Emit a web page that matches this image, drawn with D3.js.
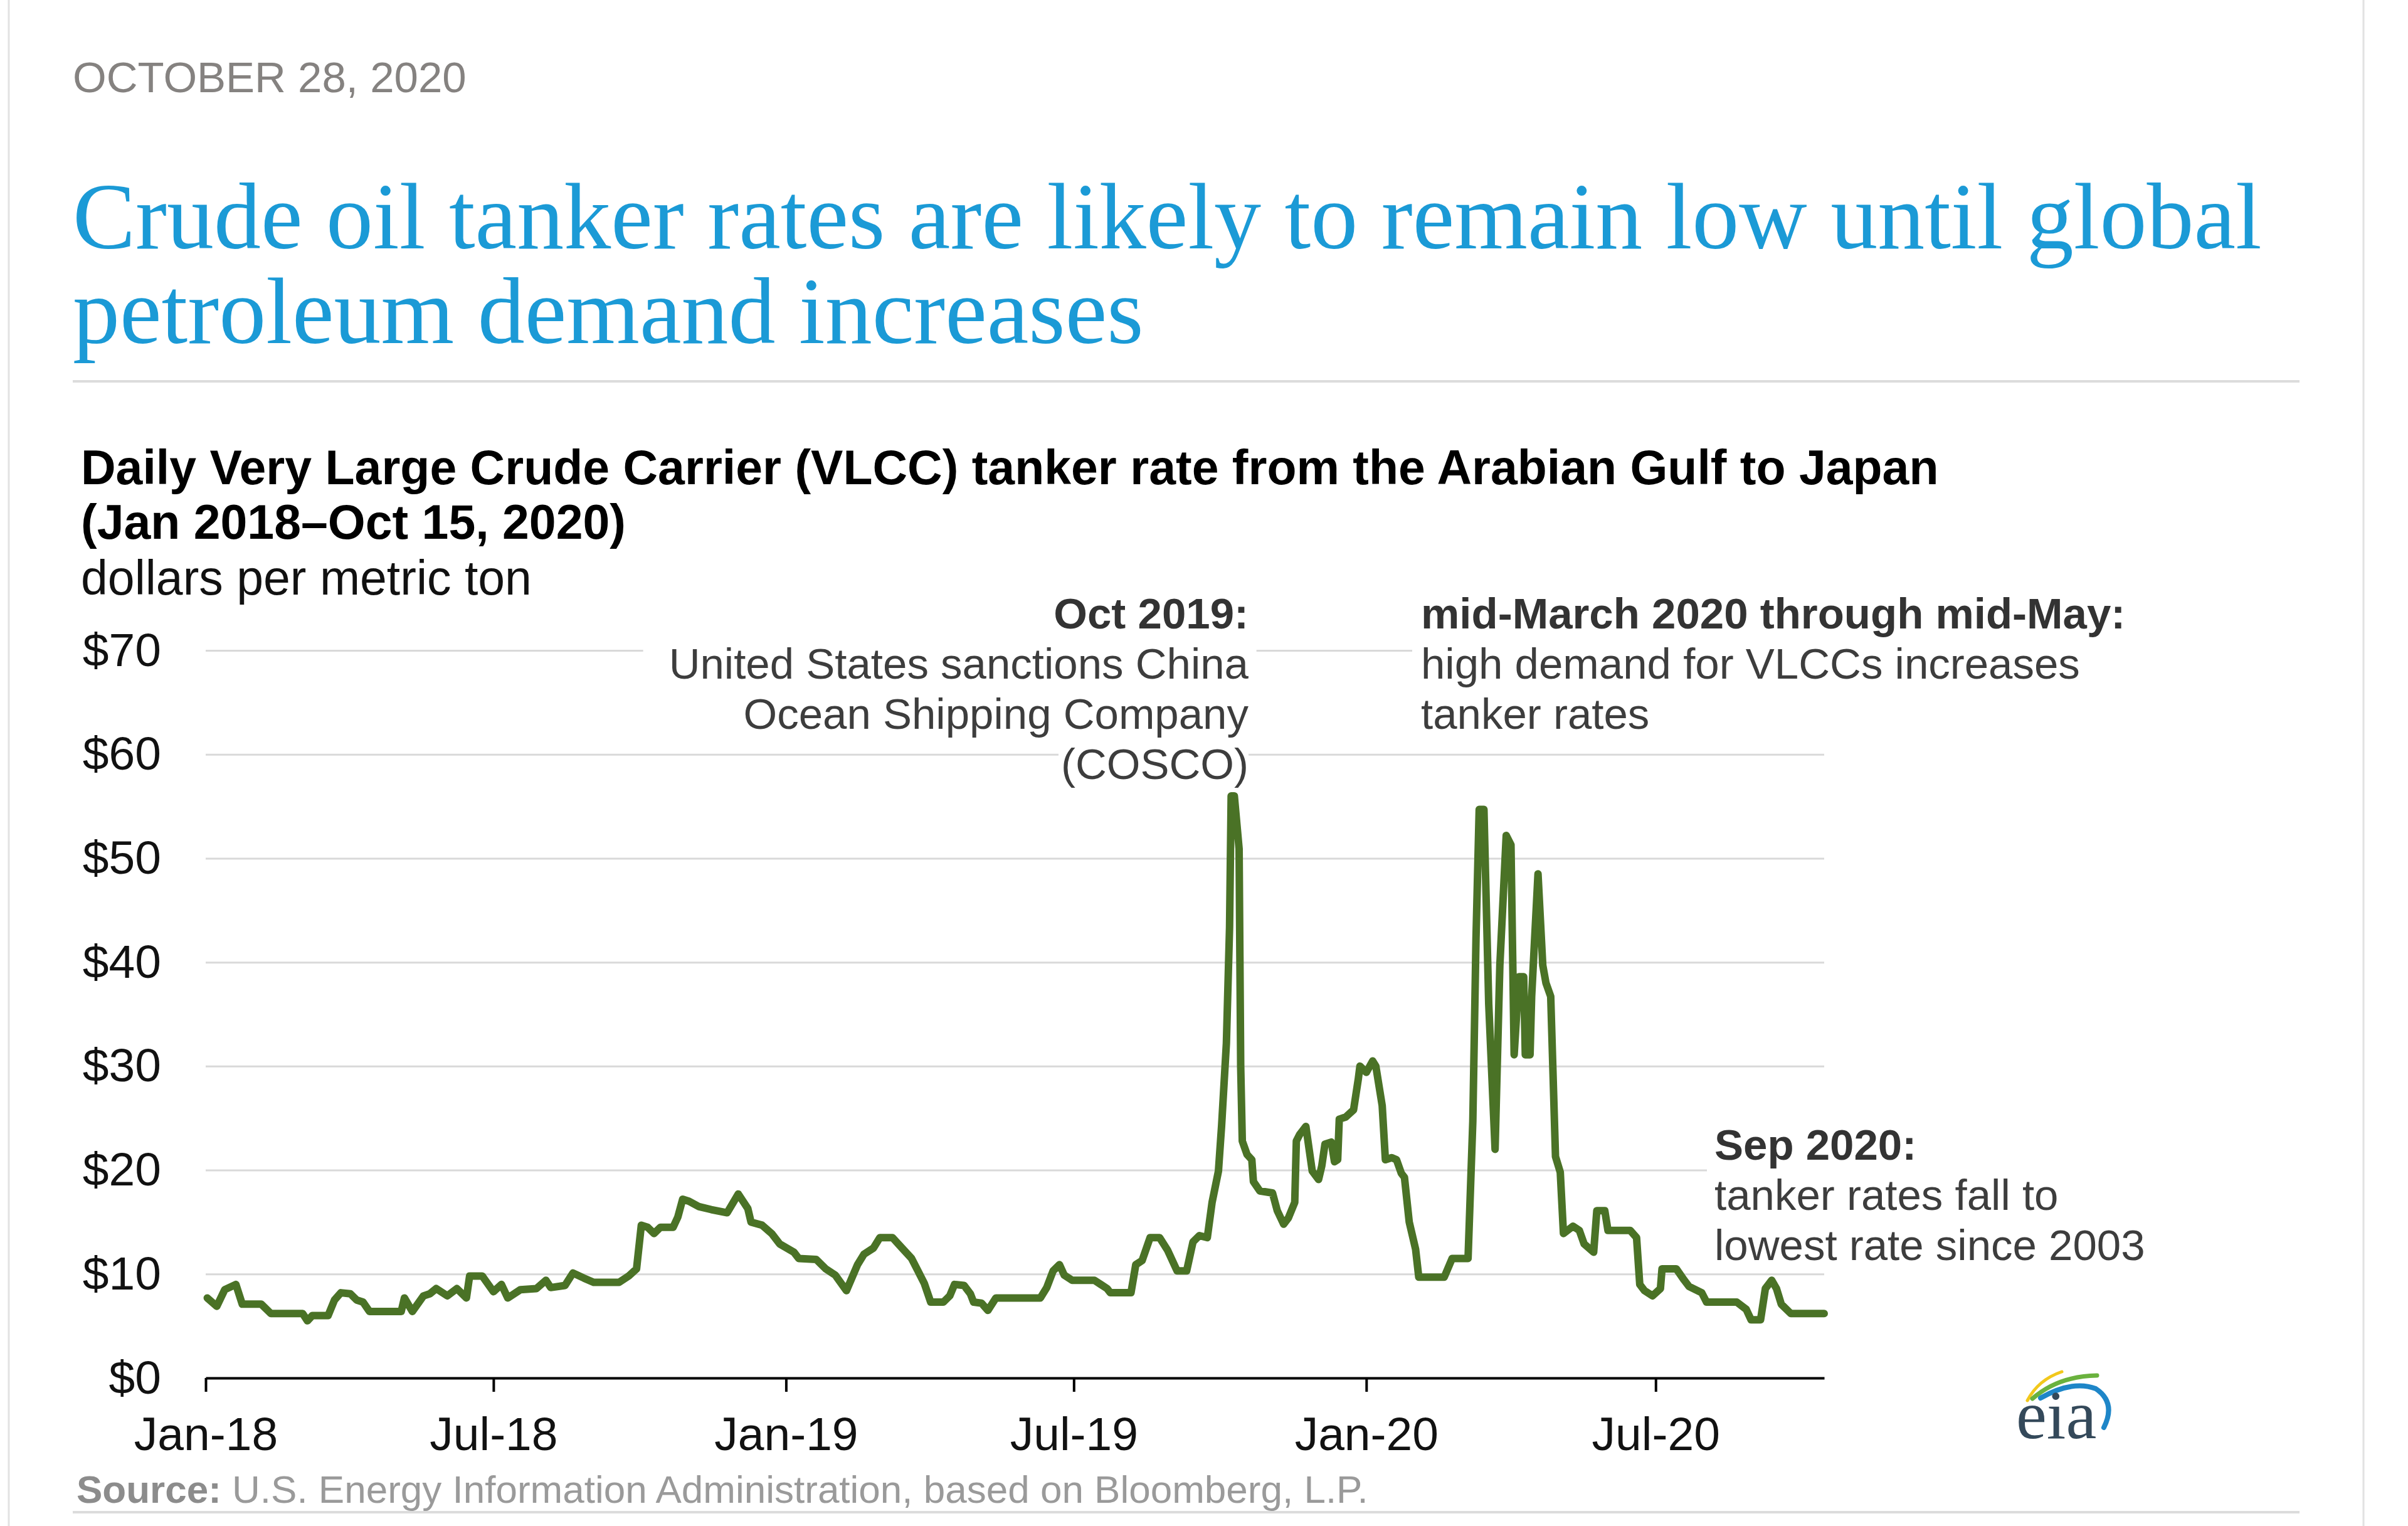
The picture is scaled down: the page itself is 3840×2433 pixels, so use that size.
<!DOCTYPE html>
<html><head><meta charset="utf-8">
<script src="https://cdn.jsdelivr.net/npm/d3@7"></script>
<style>
html,body{margin:0;padding:0;background:#fff;}
svg{display:block;}
</style></head>
<body><svg id="chart" width="3840" height="2433"></svg>
<script>
// ---- data ----
const dates = [
"2018-01-02","2018-01-08","2018-01-13","2018-01-20","2018-01-24","2018-02-05","2018-02-11","2018-03-03","2018-03-06","2018-03-09",
"2018-03-19","2018-03-23","2018-03-27","2018-04-02","2018-04-06","2018-04-10","2018-04-14","2018-05-04","2018-05-06","2018-05-11",
"2018-05-18","2018-05-22","2018-05-26","2018-06-02","2018-06-08","2018-06-14","2018-06-16","2018-06-24","2018-07-01","2018-07-06",
"2018-07-10","2018-07-18","2018-07-28","2018-08-03","2018-08-06","2018-08-15","2018-08-20","2018-08-27","2018-09-02","2018-09-18",
"2018-09-24","2018-09-29","2018-10-02","2018-10-06","2018-10-10","2018-10-14","2018-10-22","2018-10-25","2018-10-28","2018-11-01",
"2018-11-07","2018-11-15","2018-11-25","2018-12-02","2018-12-08","2018-12-10","2018-12-17","2018-12-23","2018-12-28","2019-01-06",
"2019-01-09","2019-01-20","2019-01-26","2019-02-01","2019-02-08","2019-02-15","2019-02-19","2019-02-25","2019-03-01","2019-03-09",
"2019-03-15","2019-03-21","2019-03-25","2019-03-29","2019-04-02","2019-04-10","2019-04-14","2019-04-17","2019-04-23","2019-04-27",
"2019-04-29","2019-05-04","2019-05-08","2019-05-13","2019-06-10","2019-06-14","2019-06-18","2019-06-22","2019-06-25","2019-06-30",
"2019-07-14","2019-07-18","2019-07-22","2019-07-24","2019-08-06","2019-08-09","2019-08-13","2019-08-18","2019-08-24","2019-08-29",
"2019-09-04","2019-09-10","2019-09-14","2019-09-18","2019-09-23","2019-09-26","2019-09-30","2019-10-02","2019-10-05","2019-10-07",
"2019-10-08","2019-10-10","2019-10-13","2019-10-14","2019-10-15","2019-10-18","2019-10-21","2019-10-22","2019-10-26","2019-11-03",
"2019-11-06","2019-11-10","2019-11-13","2019-11-17","2019-11-18","2019-11-20","2019-11-24","2019-11-28","2019-12-02","2019-12-04",
"2019-12-06","2019-12-10","2019-12-12","2019-12-14","2019-12-15","2019-12-19","2019-12-24","2019-12-27","2019-12-28","2020-01-01",
"2020-01-05","2020-01-07","2020-01-11","2020-01-13","2020-01-17","2020-01-20","2020-01-23","2020-01-25","2020-01-28","2020-02-01",
"2020-02-03","2020-02-19","2020-02-24","2020-03-05","2020-03-08","2020-03-10","2020-03-12","2020-03-15","2020-03-18","2020-03-22",
"2020-03-25","2020-03-29","2020-04-01","2020-04-03","2020-04-06","2020-04-09","2020-04-10","2020-04-13","2020-04-14","2020-04-18",
"2020-04-21","2020-04-23","2020-04-26","2020-04-29","2020-05-02","2020-05-04","2020-05-10","2020-05-14","2020-05-17","2020-05-23",
"2020-05-25","2020-05-30","2020-06-01","2020-06-15","2020-06-19","2020-06-21","2020-06-24","2020-06-29","2020-07-04","2020-07-05",
"2020-07-14","2020-07-19","2020-07-22","2020-07-30","2020-08-02","2020-08-21","2020-08-27","2020-08-30","2020-09-05","2020-09-08",
"2020-09-12","2020-09-15","2020-09-18","2020-09-24","2020-10-15"];
const rates = [
7.7,6.9,8.5,9.0,7.1,7.1,6.2,6.2,5.5,6.0,
6.0,7.5,8.2,8.1,7.5,7.3,6.4,6.4,7.7,6.4,
7.9,8.1,8.6,7.9,8.6,7.7,9.8,9.8,8.3,9.0,
7.7,8.5,8.6,9.4,8.7,8.9,10.1,9.6,9.2,9.2,
9.8,10.5,14.7,14.5,13.9,14.5,14.5,15.5,17.2,17.0,
16.5,16.2,15.9,17.7,16.3,15.0,14.7,13.9,12.9,12.1,
11.5,11.4,10.5,9.9,8.4,10.9,11.9,12.5,13.5,13.5,
12.5,11.5,10.3,9.1,7.3,7.3,7.9,9.0,8.9,8.1,
7.3,7.2,6.5,7.7,7.7,8.7,10.3,10.9,9.9,9.4,
9.4,9.0,8.6,8.2,8.2,10.9,11.3,13.5,13.5,12.3,
10.3,10.3,13.1,13.7,13.5,16.9,19.9,24.3,32.2,43.4,
56.0,56.0,50.9,30.0,22.8,21.5,21.0,18.9,18.0,17.8,
16.1,14.8,15.4,16.9,22.8,23.4,24.2,19.9,19.1,20.4,
22.5,22.7,20.8,21.0,24.9,25.1,25.8,28.8,30.0,29.4,
30.5,30.0,26.2,21.0,21.2,21.0,19.7,19.3,15.0,12.4,
9.7,9.7,11.5,11.5,24.7,42.3,54.7,54.7,36.0,22.0,
39.7,52.2,51.3,31.1,38.6,38.6,31.1,31.1,36.7,48.5,
39.7,38.0,36.7,21.3,19.8,13.9,14.6,14.2,12.9,12.1,
16.1,16.1,14.2,14.2,13.5,9.0,8.4,7.9,8.6,10.5,
10.5,9.4,8.8,8.2,7.3,7.3,6.6,5.6,5.6,8.6,
9.4,8.6,7.1,6.2,6.2];
const xTickDates = ["2018-01-01","2018-07-01","2019-01-01","2019-07-01","2020-01-01","2020-07-01"];
const xTickLabels = ["Jan-18","Jul-18","Jan-19","Jul-19","Jan-20","Jul-20"];
const yTickValues = [0,10,20,30,40,50,60,70];
const yTickLabels = ["$0","$10","$20","$30","$40","$50","$60","$70"];
const xDomain = ["2018-01-01","2020-10-15"];

// ---- layout ----
const parse = d3.utcParse("%Y-%m-%d");
const svg = d3.select("#chart");
const SANS = "'Liberation Sans', Arial, Helvetica, sans-serif";
const SERIF = "'Liberation Serif', 'Times New Roman', serif";
const plot = {left: 328, right: 2909, top: 1037, bottom: 2197};

svg.append("rect").attr("width",3840).attr("height",2433).attr("fill","#fff");
// page borders
svg.append("line").attr("x1",14).attr("x2",14).attr("y1",0).attr("y2",2433).attr("stroke","#e2e2e2").attr("stroke-width",3);
svg.append("line").attr("x1",3769).attr("x2",3769).attr("y1",0).attr("y2",2433).attr("stroke","#e2e2e2").attr("stroke-width",3);

// header
svg.append("text").attr("x",116).attr("y",147).attr("font-family",SANS).attr("font-size",69)
  .attr("fill","#858280").text("OCTOBER 28, 2020");
const titleLines = ["Crude oil tanker rates are likely to remain low until global","petroleum demand increases"];
svg.append("g").selectAll("text").data(titleLines).join("text")
  .attr("x",116).attr("y",(d,i)=>396+i*151).attr("font-family",SERIF).attr("font-size",150)
  .attr("fill","#1b9ad6").text(d=>d);
svg.append("line").attr("x1",116).attr("x2",3667).attr("y1",608).attr("y2",608).attr("stroke","#dcdcdc").attr("stroke-width",4);

// chart title
const chartTitle = ["Daily Very Large Crude Carrier (VLCC) tanker rate from the Arabian Gulf to Japan","(Jan 2018\u2013Oct 15, 2020)"];
svg.append("g").selectAll("text").data(chartTitle).join("text")
  .attr("x",129).attr("y",(d,i)=>772+i*87).attr("font-family",SANS).attr("font-size",77)
  .attr("font-weight","bold").attr("fill","#000").text(d=>d);
svg.append("text").attr("x",129).attr("y",948).attr("font-family",SANS).attr("font-size",77)
  .attr("fill","#111").text("dollars per metric ton");

// scales
const x = d3.scaleUtc().domain(xDomain.map(parse)).range([plot.left, plot.right]);
const y = d3.scaleLinear().domain([0,70]).range([plot.bottom, plot.top]);

// gridlines
svg.append("g").attr("transform",`translate(${plot.left},0)`)
  .call(d3.axisLeft(y).tickValues(yTickValues.filter(v=>v>0)).tickSize(-(plot.right-plot.left)).tickFormat(""))
  .call(g=>g.select(".domain").remove())
  .call(g=>g.selectAll(".tick line").attr("stroke","#d9d9d9").attr("stroke-width",3));

// y labels
svg.append("g").attr("transform",`translate(${plot.left},0)`)
  .call(d3.axisLeft(y).tickValues(yTickValues).tickSize(0).tickPadding(71).tickFormat((d,i)=>yTickLabels[i]))
  .call(g=>g.select(".domain").remove())
  .call(g=>g.selectAll("text").attr("font-family",SANS).attr("font-size",75).attr("fill","#111"));

// annotations (with white line backgrounds)
const annotations = [
  {x:1991, anchor:"end", y:1002, lines:[
    {t:"Oct 2019:", b:true},
    {t:"United States sanctions China", padL:41, padR:12},
    {t:"Ocean Shipping Company"},
    {t:"(COSCO)", padR:0}]},
  {x:2266, anchor:"start", y:1002, lines:[
    {t:"mid-March 2020 through mid-May:", b:true},
    {t:"high demand for VLCCs increases", padL:14},
    {t:"tanker rates"}]},
  {x:2734, anchor:"start", y:1849, lines:[
    {t:"Sep 2020:", b:true, padL:12},
    {t:"tanker rates fall to", padL:12},
    {t:"lowest rate since 2003"}]}
];
const annG = svg.append("g");
annotations.forEach(a=>{
  a.lines.forEach((ln,i)=>{
    const by = a.y + i*80;
    const g = annG.append("g");
    const r = g.append("rect").attr("fill","#fff");
    const t = g.append("text").attr("x",a.x).attr("y",by).attr("text-anchor",a.anchor)
      .attr("font-family",SANS).attr("font-size",69)
      .attr("font-weight",ln.b?"bold":"normal").attr("fill",ln.b?"#333":"#3d3d3d").text(ln.t);
    const bb = t.node().getBBox();
    const pl = ln.padL==null?4:ln.padL, pr = ln.padR==null?4:ln.padR;
    r.attr("x",bb.x-pl).attr("width",bb.width+pl+pr).attr("y",by-62).attr("height",80);
  });
});

// line
const data = dates.map((d,i)=>({date:parse(d), value:rates[i]}));
svg.append("path").datum(data)
  .attr("fill","none").attr("stroke","#4a7226").attr("stroke-width",12)
  .attr("stroke-linejoin","round").attr("stroke-linecap","round")
  .attr("d", d3.line().x(d=>x(d.date)).y(d=>y(d.value)));

// x axis
svg.append("g").attr("transform",`translate(0,${plot.bottom})`)
  .call(d3.axisBottom(x).tickValues(xTickDates.map(parse)).tickSize(22).tickSizeOuter(0).tickPadding(40)
    .tickFormat((d,i)=>xTickLabels[i]))
  .call(g=>g.select(".domain").attr("stroke","#000").attr("stroke-width",4))
  .call(g=>g.selectAll(".tick line").attr("stroke","#000").attr("stroke-width",4))
  .call(g=>g.selectAll("text").attr("font-family",SANS).attr("font-size",75).attr("fill","#111"));

// source
const src = svg.append("text").attr("x",122).attr("y",2396).attr("font-family",SANS).attr("font-size",62).attr("fill","#9a9a9a");
src.append("tspan").attr("font-weight","bold").attr("fill","#8c8c8c").text("Source:");
src.append("tspan").text(" U.S. Energy Information Administration, based on Bloomberg, L.P.");
svg.append("line").attr("x1",116).attr("x2",3667).attr("y1",2411).attr("y2",2411).attr("stroke","#dcdcdc").attr("stroke-width",4);

// eia logo
const logo = svg.append("g");
logo.append("path").attr("d","M3233,2233 Q3250,2200 3288,2187").attr("fill","none").attr("stroke","#f2c81c").attr("stroke-width",5).attr("stroke-linecap","round");
logo.append("path").attr("d","M3241,2230 Q3282,2194 3344,2193").attr("fill","none").attr("stroke","#6ab23e").attr("stroke-width",7).attr("stroke-linecap","round");
logo.append("path").attr("d","M3254,2229 Q3305,2200 3342,2214 Q3375,2236 3355,2276").attr("fill","none").attr("stroke","#1e86c8").attr("stroke-width",8).attr("stroke-linecap","round");
logo.append("text").attr("x",3215).attr("y",2293).attr("font-family",SERIF).attr("font-size",110).attr("fill","#34495a").text("eia");
</script>
</body></html>
